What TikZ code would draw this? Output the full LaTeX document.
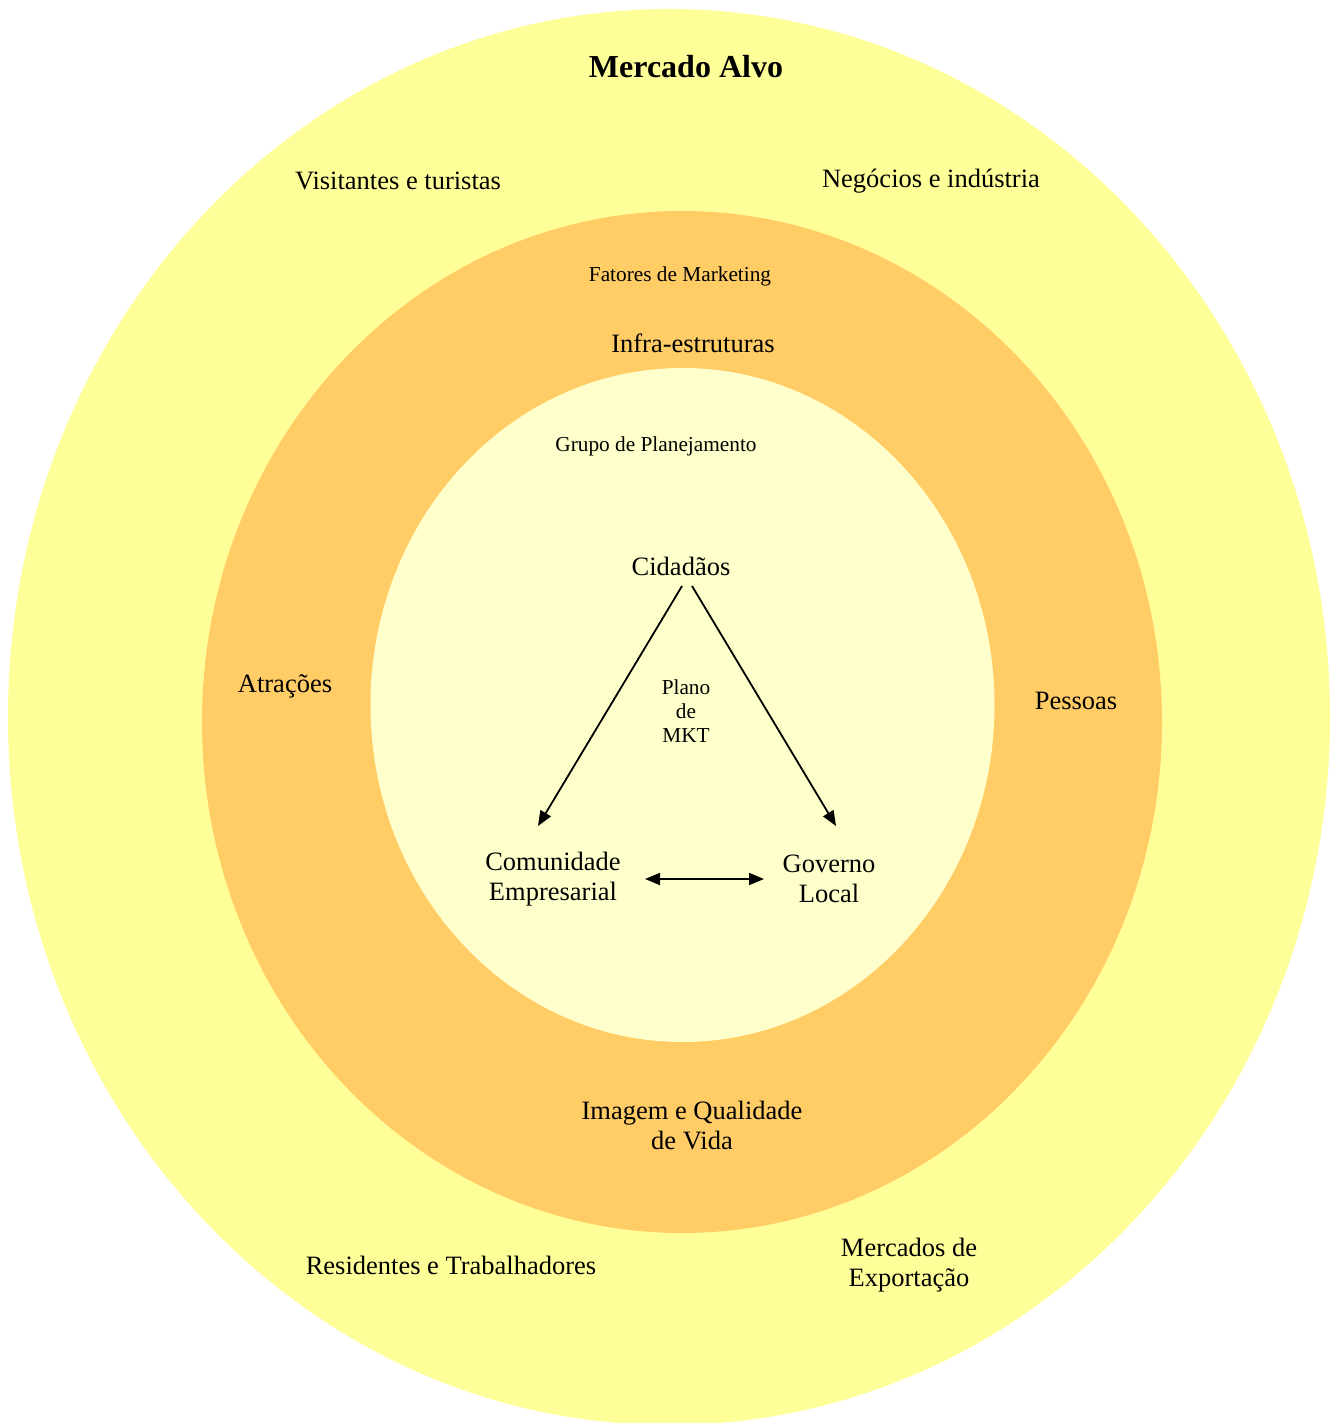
\documentclass[tikz,border=0pt]{standalone}
\usepackage{fontspec}
\setmainfont{Liberation Serif}
\usetikzlibrary{arrows.meta}
\definecolor{outerc}{HTML}{FFFF99}
\definecolor{midc}{HTML}{FFCC66}
\definecolor{innerc}{HTML}{FFFFCC}
\begin{document}
\begin{tikzpicture}[x=1pt,y=-1pt,
  big/.style={font=\fontsize{26.5}{30}\selectfont, align=center, inner sep=0pt},
  small/.style={font=\fontsize{21.3}{24}\selectfont, align=center, inner sep=0pt},
  title/.style={font=\fontsize{32}{36}\selectfont\bfseries, inner sep=0pt},
  conn/.style={line width=1.8pt, -{Triangle[length=15pt,width=12pt]}},
  dconn/.style={line width=1.8pt, {Triangle[length=15pt,width=12pt]}-{Triangle[length=15pt,width=12pt]}}]
\useasboundingbox (0,0) rectangle (1341,1423);
\clip (0,0) rectangle (1341,1423);
\fill[outerc] (669,717) ellipse [x radius=661, y radius=708];
\fill[midc] (682,722) ellipse [x radius=480, y radius=511];
\fill[innerc] (682.5,705) ellipse [x radius=312, y radius=337];

\node[title] (alvo) at (686,67) {Mercado Alvo};
\node[big] (vis) at (398,181) {Visitantes e turistas};
\node[big] (neg) at (931,181) {Negócios e indústria};
\node[small] (fat) at (680,276) {Fatores de Marketing};
\node[big] (inf) at (693,343) {Infra-estruturas};
\node[small] (grp) at (656,446) {Grupo de Planejamento};
\node[big] (cid) at (681,566) {Cidadãos};
\node[big] (atr) at (285,686) {Atrações};
\node[big] (pes) at (1076,701) {Pessoas};
\node[small] (pla) at (686,711) {Plano\\de\\MKT};
\node[big] (com) at (553,879) {Comunidade\\Empresarial};
\node[big] (gov) at (829,879) {Governo\\Local};
\node[big] (img) at (692,1125) {Imagem e Qualidade\\de Vida};
\node[big] (res) at (451,1265) {Residentes e Trabalhadores};
\node[big] (exp) at (909,1265) {Mercados de\\Exportação};

\coordinate (a1s) at (682,586);
\coordinate (a1e) at (538,826);
\coordinate (a2s) at (692,586);
\coordinate (a2e) at (836,826);
\coordinate (a3s) at (645,879);
\coordinate (a3e) at (764,879);
\draw[conn] (a1s) -- (a1e);
\draw[conn] (a2s) -- (a2e);
\draw[dconn] (a3s) -- (a3e);
\end{tikzpicture}
\end{document}
